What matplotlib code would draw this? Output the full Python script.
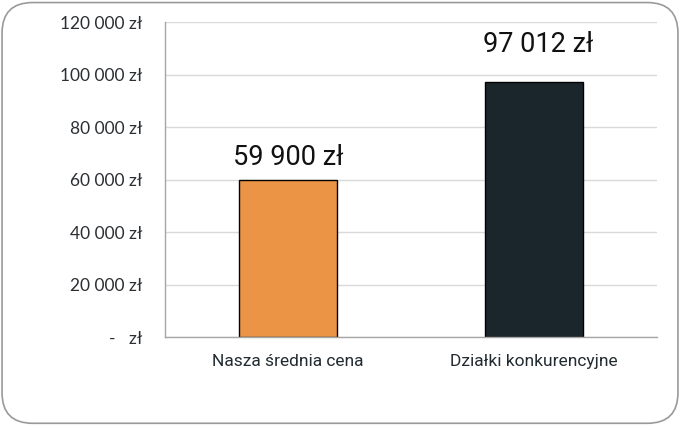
import matplotlib
matplotlib.use("Agg")
import matplotlib.pyplot as plt
from matplotlib.patches import FancyBboxPatch

categories = ["Nasza średnia cena", "Działki konkurencyjne"]
values = [59900, 97012]
value_labels = ["59 900 zł", "97 012 zł"]
label_offsets = [5600, 11600]
colors = ["#EB9445", "#1B262C"]
yticks = [0, 20000, 40000, 60000, 80000, 100000, 120000]
ytick_labels = ["-   zł", "20 000 zł", "40 000 zł", "60 000 zł", "80 000 zł", "100 000 zł", "120 000 zł"]

fig = plt.figure(figsize=(6.8, 4.25), dpi=100)
# rounded frame around the whole chart
frame = FancyBboxPatch((0.003, 0.004), 0.994, 0.99, boxstyle="round,pad=0,rounding_size=0.045",
                       transform=fig.transFigure, facecolor="white", edgecolor="#9a9a9a",
                       linewidth=1.2, mutation_aspect=680/425, zorder=-1)
fig.patches.append(frame)

ax = fig.add_axes([0.2426, 0.207, 0.7236, 0.741])
ax.set_facecolor("none")
x = range(len(categories))
ax.bar(x, values, width=0.40, color=colors, edgecolor="black", linewidth=1, zorder=3)
ax.set_xlim(-0.5, 1.5)
ax.set_ylim(0, 120000)
ax.set_yticks(yticks)
ax.set_yticklabels(ytick_labels, fontfamily="Lato", fontsize=12.5, color="#2b2f33")
ax.set_xticks(list(x))
ax.set_xticklabels(categories, fontfamily="Roboto", fontsize=12.5, color="#222b30")
ax.tick_params(axis="both", length=0)
ax.tick_params(axis="y", pad=16)
ax.tick_params(axis="x", pad=12)
ax.grid(axis="y", color="#d9d9d9", linewidth=1, zorder=0)
for s in ["top", "right"]:
    ax.spines[s].set_visible(False)
for s in ["left", "bottom"]:
    ax.spines[s].set_color("#a6a6a6")
    ax.spines[s].set_linewidth(1)
    ax.spines[s].set_zorder(4)

for i, v in enumerate(values):
    ax.text(i + 0.015 * i, v + label_offsets[i], value_labels[i], ha="center", va="baseline",
            fontfamily="Roboto", fontsize=19.5, color="#111111")

fig.savefig("out.png", dpi=100)
